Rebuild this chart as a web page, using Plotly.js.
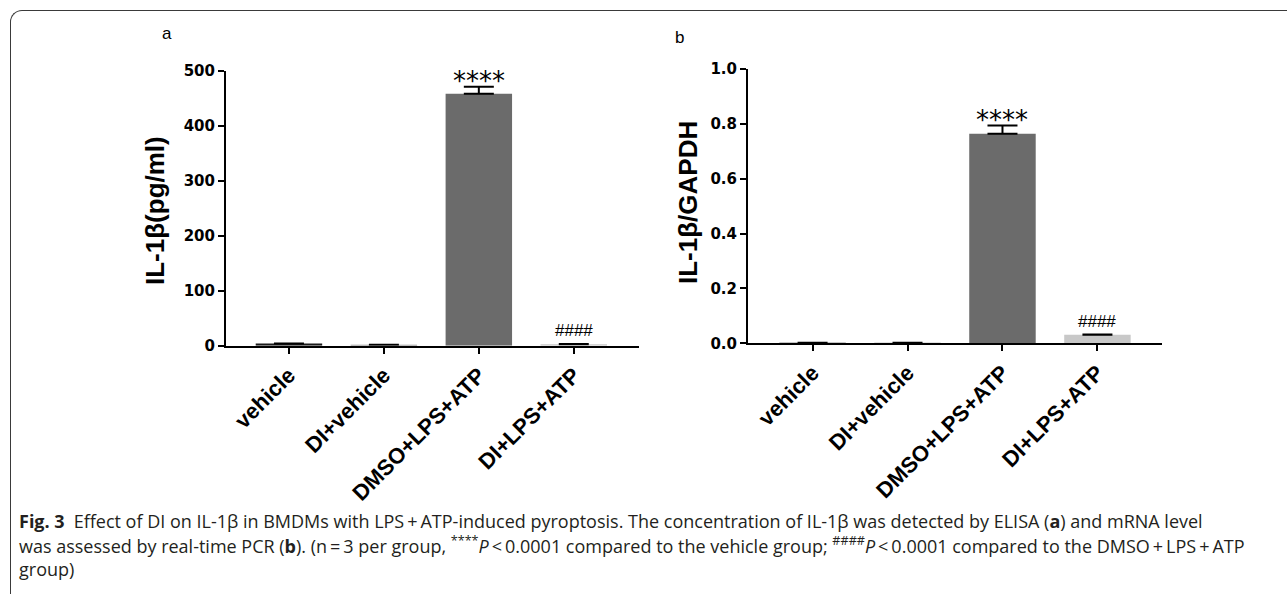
<!DOCTYPE html>
<html>
<head>
<meta charset="utf-8">
<script src="https://cdn.plot.ly/plotly-3.0.1.min.js"></script>
<style>
  html, body { margin: 0; padding: 0; background: #fff; overflow: hidden; }
  #wrap { position: relative; width: 1287px; height: 594px; }
  #chart { position: absolute; left: 0; top: 0; width: 1287px; height: 594px; }
  #card { position: absolute; left: 10px; top: 10px; width: 1300px; height: 620px;
          border-top: 1.5px solid #3a3a3a; border-left: 1.5px solid #3a3a3a;
          border-top-left-radius: 12px; pointer-events: none; box-sizing: border-box; }
</style>
</head>
<body>
<div id="wrap">
  <div id="chart"></div>
  <div id="card"></div>
</div>
<script>
// ---- data ----
const categories = ['vehicle', 'DI+vehicle', 'DMSO+LPS+ATP', 'DI+LPS+ATP'];
const elisaMean = [4, 1.5, 458, 2.5];
const elisaSem = [null, null, 13, 0.5];
const pcrMean = [0.002, 0.002, 0.764, 0.031];
const pcrSem = [null, null, 0.03, 0.001];
const elisaMarks = ['', '', '****', '####'];
const pcrMarks = ['', '', '****', '####'];
const yTickValsA = [0, 100, 200, 300, 400, 500];
const yTickTextA = ['0', '100', '200', '300', '400', '500'];
const yTickValsB = [0, 0.2, 0.4, 0.6, 0.8, 1.0];
const yTickTextB = ['0.0', '0.2', '0.4', '0.6', '0.8', '1.0'];
const barColors = ['#1a1a1a', '#8a8a8a', '#6b6b6b', '#c8c8c8'];
const yTitleA = 'IL-1β(pg/ml)';
const yTitleB = 'IL-1β/GAPDH';
const captionLines = [
  '<b>Fig. 3</b>\u2002Effect of DI on IL-1β in BMDMs with LPS\u2009+\u2009ATP-induced pyroptosis. The concentration of IL-1β was detected by ELISA (<b>a</b>) and mRNA level',
  'was assessed by real-time PCR (<b>b</b>). (n\u2009=\u20093 per group, <sup>****</sup><i>P</i>\u2009<\u20090.0001 compared to the vehicle group; <sup>####</sup><i>P</i>\u2009<\u20090.0001 compared to the DMSO\u2009+\u2009LPS\u2009+\u2009ATP',
  'group)'
];

// ---- geometry helpers (pixel -> paper) ----
const W = 1287, H = 594;
const px = v => v / W;
const py = v => 1 - v / H;

const sans = 'Liberation Sans, Arial, sans-serif';

function barTrace(means, sems, xa, ya) {
  return {
    type: 'bar', x: categories, y: means, xaxis: xa, yaxis: ya,
    width: 0.7,
    marker: { color: barColors, line: { width: 0 } },
    error_y: { type: 'data', array: sems, arrayminus: sems.map(s => (s === null ? null : 0)), symmetric: false,
               color: '#000', thickness: 2, width: 15, visible: true },
    hoverinfo: 'skip', showlegend: false
  };
}

const data = [
  barTrace(elisaMean, elisaSem, 'x', 'y'),
  barTrace(pcrMean, pcrSem, 'x2', 'y2')
];

function xAxis(domain, range, anchor) {
  return {
    domain: domain, range: range, anchor: anchor, type: 'category',
    showline: true, linewidth: 2, linecolor: '#000',
    ticks: 'outside', ticklen: 6, tickwidth: 2, tickcolor: '#000',
    tickangle: -45, tickfont: { family: sans, size: 22, color: '#000', weight: 'bold' },
    showgrid: false, zeroline: false, fixedrange: true
  };
}
function yAxis(domain, range, anchor, vals, text) {
  return {
    domain: domain, range: range, anchor: anchor,
    tickmode: 'array', tickvals: vals, ticktext: text,
    showline: true, linewidth: 2, linecolor: '#000',
    ticks: 'outside', ticklen: 6, tickwidth: 2, tickcolor: '#000',
    tickfont: { family: 'DejaVu Sans, sans-serif', size: 15, color: '#000', weight: 'bold' },
    showgrid: false, zeroline: false, fixedrange: true
  };
}

const annotations = [];
// panel letters
annotations.push({ xref: 'paper', yref: 'paper', x: px(167), y: py(33), text: 'a', showarrow: false,
  font: { family: sans, size: 17, color: '#000' }, xanchor: 'center', yanchor: 'middle' });
annotations.push({ xref: 'paper', yref: 'paper', x: px(679), y: py(37), text: 'b', showarrow: false,
  font: { family: sans, size: 17, color: '#000' }, xanchor: 'center', yanchor: 'middle' });
// y titles
annotations.push({ xref: 'paper', yref: 'paper', x: px(155), y: py(211), text: yTitleA, showarrow: false,
  textangle: -90, font: { family: sans, size: 26, color: '#000', weight: 'bold' }, xanchor: 'center', yanchor: 'middle' });
annotations.push({ xref: 'paper', yref: 'paper', x: px(688), y: py(203), text: yTitleB, showarrow: false,
  textangle: -90, font: { family: sans, size: 26, color: '#000', weight: 'bold' }, xanchor: 'center', yanchor: 'middle' });

// significance marks
function addMarks(marks, means, sems, xr, yr) {
  marks.forEach((m, i) => {
    if (!m) return;
    const star = m.startsWith('*');
    annotations.push({
      xref: xr, yref: yr, x: categories[i], y: means[i] + (sems[i] || 0), text: m, showarrow: false,
      xanchor: 'center', yanchor: 'bottom', yshift: star ? -11 : 2,
      font: star ? { family: 'DejaVu Sans, sans-serif', size: 26, color: '#000' }
                 : { family: sans, size: 17, color: '#000' }
    });
  });
}
addMarks(elisaMarks, elisaMean, elisaSem, 'x', 'y');
addMarks(pcrMarks, pcrMean, pcrSem, 'x2', 'y2');

// caption
const capY = [521, 545, 569];
captionLines.forEach((t, i) => {
  annotations.push({ xref: 'paper', yref: 'paper', x: px(17), y: py(capY[i]), text: t, showarrow: false,
    xanchor: 'left', yanchor: 'middle', align: 'left',
    font: { family: 'Open Sans, sans-serif', size: 18, color: '#231f20' } });
});

const layout = {
  width: W, height: H, autosize: false,
  margin: { l: 0, r: 0, t: 0, b: 0, pad: 0 },
  paper_bgcolor: '#fff', plot_bgcolor: 'rgba(0,0,0,0)',
  xaxis: xAxis([px(226), px(639)], [-0.663, 3.687], 'y'),
  yaxis: yAxis([py(345.7), py(70.7)], [0, 500], 'x', yTickValsA, yTickTextA),
  xaxis2: xAxis([px(748), px(1162)], [-0.68, 3.68], 'y2'),
  yaxis2: yAxis([py(343.3), py(69)], [0, 1.0], 'x2', yTickValsB, yTickTextB),
  annotations: annotations,
  showlegend: false
};

Plotly.newPlot('chart', data, layout, { staticPlot: true, displayModeBar: false });
</script>
</body>
</html>
